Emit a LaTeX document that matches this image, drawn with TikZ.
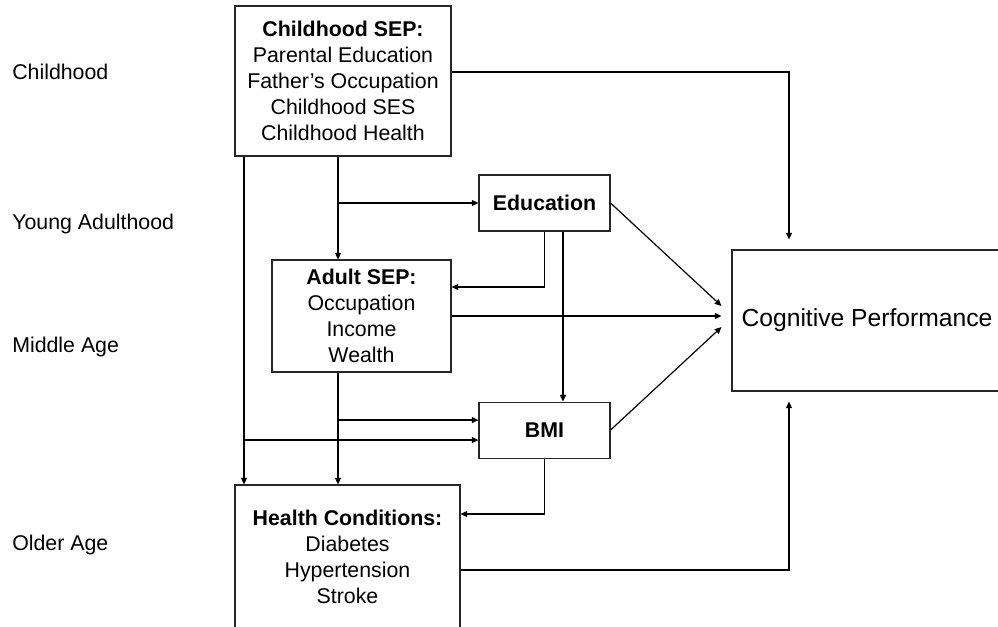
\documentclass[tikz,border=0pt]{standalone}
\usepackage{fontspec}
\setmainfont{Liberation Sans}
\usepackage{tikz}
\usetikzlibrary{arrows.meta, positioning}

\begin{document}
\begin{tikzpicture}[
        x=0.75pt, y=-0.75pt,
        box/.style={rectangle, draw=black!85, line width=0.8pt, inner sep=0pt, align=center, font=\fontsize{16}{19.5}\selectfont},
        stage/.style={anchor=base west, inner sep=0pt, font=\fontsize{16}{19.5}\selectfont},
        arrow/.style={-{Triangle[length=5pt, width=4.5pt]}, line width=0.9pt},
        gap/.style={shorten >=7.5pt}
    ]
    \useasboundingbox (0,0) rectangle (998,626);

    % Life stages
    \node[stage] (lchild) at (12,79) {Childhood};
    \node[stage] (lyoung) at (12,229) {Young Adulthood};
    \node[stage] (lmiddle) at (12,352) {Middle Age};
    \node[stage] (lolder) at (12,550.5) {Older Age};

    % Boxes
    \node[box, minimum width=162pt, minimum height=112.5pt] (csep) at (343,81) {\textbf{Childhood SEP:}\\Parental Education\\Father's Occupation\\Childhood SES\\Childhood Health};
    \node[box, minimum width=98.25pt, minimum height=42pt, font=\fontsize{16}{19.5}\selectfont\bfseries] (edu) at (544.5,203) {Education};
    \node[box, minimum width=134.25pt, minimum height=84pt] (asep) at (361.5,316) {\textbf{Adult SEP:}\\Occupation\\Income\\Wealth};
    \node[box, minimum width=98.25pt, minimum height=42pt, font=\fontsize{16}{19.5}\selectfont\bfseries, below=127.5pt of edu] (bmi) {BMI};
    \node[box, minimum width=168.75pt, minimum height=108pt] (hc) at (347.5,557) {\textbf{Health Conditions:}\\Diabetes\\Hypertension\\Stroke};
    \node[box, minimum width=202.5pt, minimum height=105.75pt, font=\fontsize{18.5}{22}\selectfont] (cog) at (867,320.5) {Cognitive Performance};

    % Helper points
    \coordinate (cogx) at (789,0);
    \coordinate (busa) at ([xshift=-74.25pt]csep.south);
    \coordinate (busb) at ([xshift=-3.75pt]csep.south);
    \coordinate (bmiup) at ([yshift=7.5pt]bmi.west);
    \coordinate (bmilow) at ([yshift=-7.5pt]bmi.west);

    % Arrows
    \draw[arrow, gap] ([yshift=6.75pt]csep.east) -| (cogx |- cog.north);
    \draw[arrow] (busa) -- (busa |- hc.north);
    \draw[arrow] (busa |- bmilow) -- (bmilow);
    \draw[arrow] (busb) -- (busb |- asep.north);
    \draw[arrow] (busb |- edu.west) -- (edu.west);
    \draw[arrow] (edu.south) |- ([yshift=21.75pt]asep.east);
    \draw[arrow] ([xshift=13.875pt]edu.south) -- ([xshift=13.875pt]bmi.north);
    \draw[arrow] (edu.east) -- ([shift={(-7.5pt,10.9pt)}]cog.west);
    \draw[arrow] (asep.east) -- ([xshift=-7.5pt]asep.east -| cog.west);
    \draw[arrow] (bmi.east) -- ([shift={(-7.5pt,-4.9pt)}]cog.west);
    \draw[arrow] (busb |- asep.south) -- (busb |- hc.north);
    \draw[arrow] (busb |- bmiup) -- (bmiup);
    \draw[arrow] (bmi.south) |- ([yshift=32.25pt]hc.east);
    \draw[arrow, gap] ([yshift=-9.75pt]hc.east) -| (cogx |- cog.south);

\end{tikzpicture}
\end{document}
